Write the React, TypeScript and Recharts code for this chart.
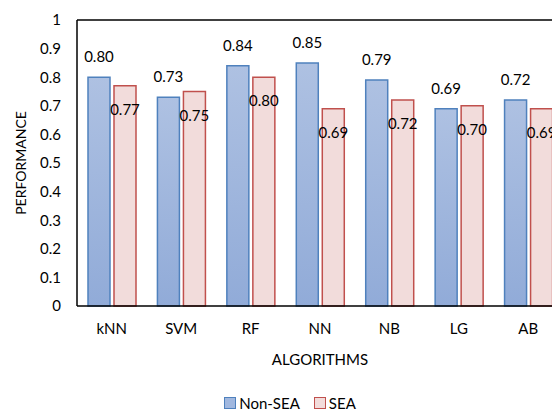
import {
  BarChart,
  Bar,
  XAxis,
  YAxis,
  ReferenceLine,
  LabelList,
  Legend,
} from "recharts";

const algorithms = ["kNN", "SVM", "RF", "NN", "NB", "LG", "AB"];
const nonSea = [0.8, 0.73, 0.84, 0.85, 0.79, 0.69, 0.72];
const sea = [0.77, 0.75, 0.8, 0.69, 0.72, 0.7, 0.69];
const yTicks = [0, 0.1, 0.2, 0.3, 0.4, 0.5, 0.6, 0.7, 0.8, 0.9, 1];

const data = algorithms.map((name, i) => ({
  name,
  nonSea: nonSea[i],
  sea: sea[i],
}));

const FONT = "Lato, 'Open Sans', sans-serif";
const BLUE = "#4f81bd";
const RED = "#c0504d";

function LabelAbove(props: any) {
  const { x, y, width, value } = props;
  return (
    <text
      x={x + width / 2}
      y={y - 21}
      textAnchor="middle"
      dominantBaseline="central"
      fontFamily={FONT}
      fontSize={15}
      fill="#000"
    >
      {Number(value).toFixed(2)}
    </text>
  );
}

function LabelInside(props: any) {
  const { x, y, width, value } = props;
  return (
    <text
      x={x + width / 2}
      y={y + 23}
      textAnchor="middle"
      dominantBaseline="central"
      fontFamily={FONT}
      fontSize={15}
      fill="#000"
    >
      {Number(value).toFixed(2)}
    </text>
  );
}

function LegendBox() {
  const item = (label: string, stroke: string, fill: string) => (
    <div style={{ display: "flex", alignItems: "center", marginRight: 14 }}>
      <span
        style={{
          display: "inline-block",
          width: 10,
          height: 10,
          border: `1.5px solid ${stroke}`,
          background: fill,
          marginRight: 3,
        }}
      />
      <span>{label}</span>
    </div>
  );
  return (
    <div
      style={{
        display: "flex",
        justifyContent: "center",
        fontFamily: FONT,
        fontSize: 15,
        color: "#000",
        paddingLeft: 14,
      }}
    >
      {item("Non-SEA", BLUE, "#a1b8df")}
      {item("SEA", RED, "#f2dcdb")}
    </div>
  );
}

export default function App() {
  return (
    <div
      style={{
        position: "fixed",
        left: 0,
        top: 0,
        width: 552,
        height: 411,
        overflow: "hidden",
        background: "#fff",
      }}
    >
      <BarChart
        width={580}
        height={411}
        data={data}
        margin={{ top: 20, right: 17, left: 0, bottom: 0 }}
        barSize={22}
        barGap={4}
      >
        <defs>
          <linearGradient id="blueFill" x1="0" y1="0" x2="0" y2="1">
            <stop offset="0%" stopColor="#aec1e2" />
            <stop offset="100%" stopColor="#91abd8" />
          </linearGradient>
        </defs>
        <XAxis
          dataKey="name"
          height={105}
          axisLine={{ stroke: "#000", strokeWidth: 1.5 }}
          tickLine={false}
          tickSize={0}
          tickMargin={17}
          tick={{ fontFamily: FONT, fontSize: 15, fill: "#000" }}
          label={(p: any) => (
            <text
              x={p.viewBox.x + p.viewBox.width / 2}
              y={359}
              textAnchor="middle"
              dominantBaseline="central"
              fontFamily={FONT}
              fontSize={15}
              fill="#000"
            >
              ALGORITHMS
            </text>
          )}
        />
        <YAxis
          width={77}
          domain={[0, 1]}
          ticks={yTicks}
          interval={0}
          axisLine={{ stroke: "#000", strokeWidth: 1.5 }}
          tickLine={false}
          tickSize={0}
          tickMargin={16}
          tick={{ fontFamily: FONT, fontSize: 15, fill: "#000" }}
          label={(p: any) => (
            <text
              x={20}
              y={p.viewBox.y + p.viewBox.height / 2}
              transform={`rotate(-90 20 ${p.viewBox.y + p.viewBox.height / 2})`}
              textAnchor="middle"
              dominantBaseline="central"
              fontFamily={FONT}
              fontSize={14}
              fill="#000"
            >
              PERFORMANCE
            </text>
          )}
        />
        <ReferenceLine y={1} stroke="#000" strokeWidth={1.5} />
        <Legend
          layout="horizontal"
          verticalAlign="middle"
          align="center"
          wrapperStyle={{ top: 394, left: 0, width: 580 }}
          content={() => <LegendBox />}
        />
        <Bar
          dataKey="nonSea"
          name="Non-SEA"
          fill="url(#blueFill)"
          stroke={BLUE}
          strokeWidth={1.5}
          isAnimationActive={false}
        >
          <LabelList dataKey="nonSea" content={LabelAbove} />
        </Bar>
        <Bar
          dataKey="sea"
          name="SEA"
          fill="#f2dcdb"
          stroke={RED}
          strokeWidth={1.5}
          isAnimationActive={false}
        >
          <LabelList dataKey="sea" content={LabelInside} />
        </Bar>
      </BarChart>
    </div>
  );
}
